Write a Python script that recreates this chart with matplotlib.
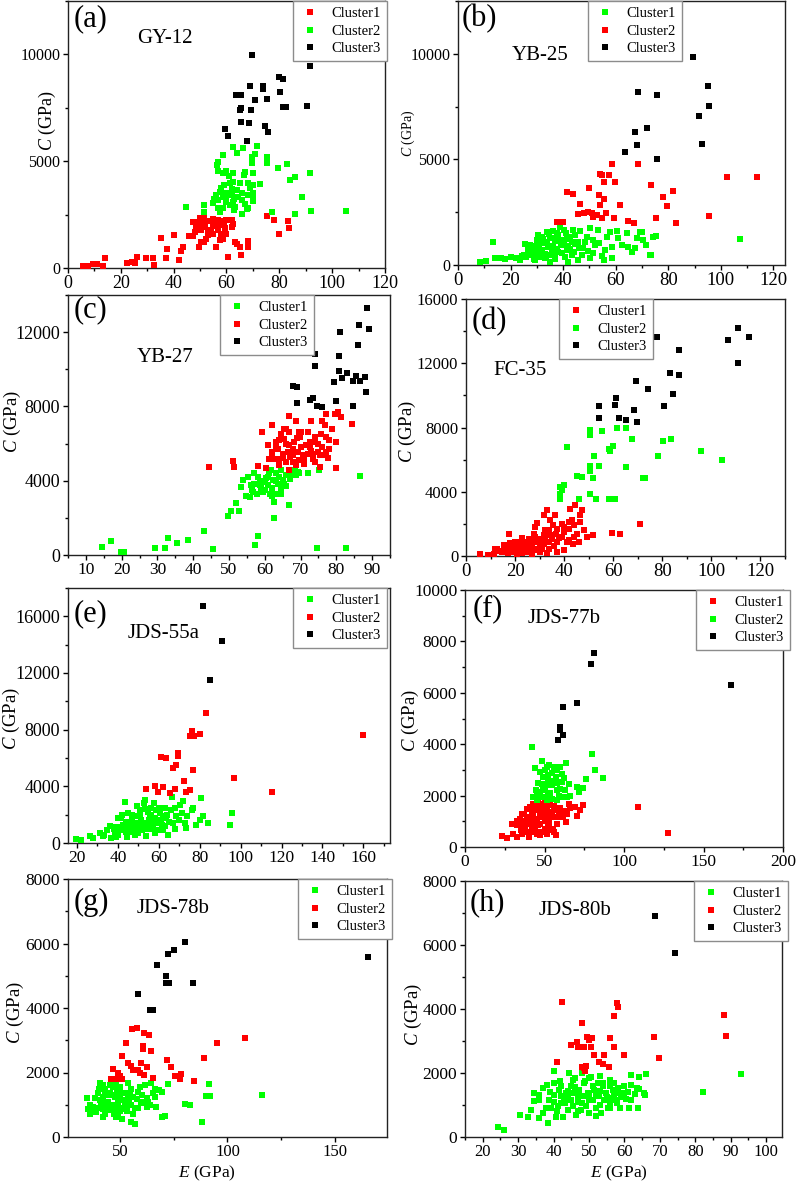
import matplotlib
matplotlib.use("Agg")
import matplotlib.pyplot as plt
from matplotlib.ticker import MultipleLocator, FixedLocator
from matplotlib.lines import Line2D

plt.rcParams['font.family'] = ['Liberation Serif', 'DejaVu Serif']
plt.rcParams['mathtext.fontset'] = 'custom'
plt.rcParams['mathtext.rm'] = 'Liberation Serif'
plt.rcParams['mathtext.it'] = 'Liberation Serif:italic'

RED = '#ff0000'
GREEN = '#00ff00'
BLACK = '#000000'

# ---------------- data (E in GPa, C in GPa) ----------------
# (a) GY-12
a_cluster1 = [(5.8,94),(7.7,94),(9.6,188),(10.9,200),(13.1,94),(14.0,455),(22.2,250),(24.1,297),(25.4,220),(26.2,530),
              (29.5,455),(32.3,455),(32.6,140),(35.2,1390),(37.1,455),(37.4,877),(40.2,1550),(42.1,375),(42.7,813),(43.4,1000),
              (45.9,1500),(47.4,1500),(49.7,1000),(50.3,1235),(47.4,2175),(48.7,2128),(50.6,1940),(51.5,2380),(51.4,1220),(52.4,1380),
              (52.9,1770),(50.5,1770),(48.6,1930),(47.6,2160),(49.9,2320),(51.4,2240),(53.0,2210),(54.9,2120),(56.8,2240),(58.5,2210),
              (60.0,2240),(61.9,2240),(62.5,2050),(61.9,1930),(59.4,1850),(56.8,1800),(54.9,1960),(53.4,1770),(56.5,1990),(60.0,1610),
              (58.7,1380),(57.5,1330),(56.2,990),(60.4,520),(63.2,1220),(64.0,1140),(65.1,990),(65.3,600),(68.0,990),(68.2,1270),
              (75.2,2430),(77.9,2240),(80.0,1610),(83.4,2210),(83.7,1880),
              (52.0,2000),(54.0,1800),(55.0,2300),(57.0,2000),(59.0,2050),(53.0,1550),(55.0,1600),(48.0,1700),(50.0,2100),(58.0,1600)]
a_cluster2 = [(58.5,5300),(62.5,5660),(66.3,5610),(71.4,5690),(70.7,5340),(75.2,5220),(75.2,4900),(69.7,4900),(69.8,5220),(64.0,5380),
              (56.6,4560),(60.0,4560),(58.5,4440),(62.5,4470),(66.7,4360),(70.1,4440),(79.6,4670),(83.0,4860),(85.9,4280),(84.0,4120),
              (91.6,4470),(72.6,3920),(70.1,3890),(68.2,3970),(61.3,3970),(62.5,4040),(64.0,3650),(70.1,3500),(70.1,3260),(70.1,3130),
              (68.2,3420),(58.1,3730),(57.5,3570),(56.0,3420),(60.0,3500),(58.7,3340),(56.8,3180),(55.3,3210),(61.9,3420),(64.4,3340),
              (65.7,3180),(62.5,3100),(60.0,3100),(61.3,2950),(63.2,2870),(58.5,2790),(57.5,2630),(56.8,2790),(55.0,3060),(51.4,2950),
              (51.4,2630),(44.8,2870),(67.8,2740),(65.7,2550),(68.2,2790),(77.4,2630),(86.1,2550),(91.8,2650),(105.2,2680),(88.4,3310),
              (66.9,4510),(56.8,4980),(56.5,4830),
              (59.0,3900),(60.0,3300),(62.0,3700),(63.0,3250),(65.0,4000),(66.0,3500),(67.0,3000),(69.0,3750),(61.0,4300),(63.0,2700)]
a_cluster3 = [(69.7,9950),(91.6,9480),(79.9,8950),(81.2,8850),(68.8,8510),(73.9,8540),(73.9,8380),(63.5,8090),(65.3,8090),(70.7,7880),
              (80.2,8230),(75.4,7930),(81.2,7550),(82.5,7550),(90.6,7600),(65.3,7490),(65.0,7410),(69.1,7410),(65.3,6850),(68.5,6780),
              (74.5,6630),(75.8,6360),(59.4,6520),(60.6,6160),(67.6,5960)]

# (b) YB-25
b_cluster1 = [(8.3,157),(10.8,204),(13.3,1105),(14.0,316),(16.5,316),(17.8,270),(20.3,363),(22.2,316),(24.2,427),(25.4,995),
              (27.3,948),(26.0,363),(28.0,474),(29.2,711),(30.5,1422),(29.9,1185),(31.8,1343),(32.4,1027),(33.7,1580),(34.3,869),
              (35.6,632),(36.8,1185),(37.5,1501),(38.7,1817),(39.4,948),(40.6,395),(41.3,711),(42.6,1343),(43.8,1659),(43.2,1106),
              (36.8,395),(33.0,316),(31.1,395),(29.2,237),(34.9,158),(41.9,158),(45.7,237),(47.0,474),(48.3,1106),(48.9,1343),
              (50.2,1738),(53.3,1659),(52.1,948),(51.4,553),(50.2,316),(54.6,427),(56.5,1343),(57.8,1580),(55.9,711),(58.4,869),
              (61.0,1264),(64.2,1501),(64.8,869),(66.1,632),(68.0,1264),(69.2,1580),(70.5,1185),(73.0,474),(74.3,1343),(58.4,316),
              (69.9,1550),(75.3,1380),(73.3,475),(67.3,790),(107.3,1220),
              (32.0,700),(34.0,1100),(36.0,900),(38.0,600),(40.0,1200),(42.0,900),(44.0,600),(37.0,300),(39.0,1000),(41.0,1500),
              (30.0,500),(27.0,600),(35.0,1300),(38.0,1400),(33.0,500),(44.5,1000),(46.0,800),(40.5,1650),(36.0,1600),(31.0,900),
              (26.5,700),(28.5,900),(30.5,1100),(32.5,1250),(34.5,1450),(36.5,1300),(38.5,1150),(40.5,950),(42.5,750),(44.5,1400),
              (33.5,350),(35.5,450),(37.5,750),(39.5,550),(41.5,1250),(43.5,450),(45.5,1100),(47.5,800),(49.5,650),(51.5,1200),
              (23.5,250),(25.0,450),(29.0,300),(31.5,600),(46.5,1600),(53.5,1050),(55.5,250),(60.5,1600),(62.5,950),(71.5,950)]
b_cluster2 = [(58.4,4790),(68.6,4760),(54.0,4320),(54.6,4240),(57.5,4240),(55.5,3950),(59.9,3920),(73.3,3800),(49.9,3640),(41.5,3450),
              (43.8,3370),(53.6,3320),(55.5,3130),(78.1,3240),(81.9,3510),(46.4,2900),(54.0,2820),(61.6,2820),(79.4,2800),(45.7,2400),
              (47.9,2450),(49.5,2530),(50.8,2450),(51.4,2290),(52.7,2370),(54.6,2210),(56.3,2450),(59.3,2210),(37.8,2020),(40.0,2020),
              (64.8,2060),(67.0,1980),(75.3,2210),(82.9,1980),(95.6,2330),(102.2,4190),(113.7,4160)]
b_cluster3 = [(89.5,9840),(95.0,8460),(68.6,8180),(75.8,8070),(95.6,7550),(91.7,7040),(71.8,6490),(67.3,6280),(68.2,5660),(92.7,5740),
              (63.6,5330),(75.8,5010)]

# (c) YB-27
c_cluster1 = [(14.4,450),(17.0,750),(19.8,180),(20.6,140),(29.3,390),(32.1,360),(33.0,900),(35.6,630),(38.6,810),(43.1,1310),
              (45.5,300),(49.7,2100),(50.6,2380),(51.9,2810),(52.8,2380),(57.3,540),(58.1,1020),(62.5,2010),(62.5,2870),(66.7,2690),
              (74.7,390),(82.6,360),(75.1,4570),(86.7,4260),(72.0,4390),(53.4,3670),(53.9,4030),(55.3,4210),(54.8,3190),(56.2,3760),
              (57.1,4390),(55.8,3130),(57.7,3310),(59.5,3400),(59.5,3980),(58.8,3760),(60.4,4120),(61.3,4390),(60.9,3760),(62.3,4030),
              (63.2,4390),(63.7,3850),(64.6,3580),(63.2,3310),(64.6,3310),(65.5,3850),(66.0,4300),(67.4,4390),(68.8,4300),(69.3,4480),
              (68.4,4570),(69.7,4390),(61.8,4570),(64.6,4570),(58.6,3940),(61.5,3310),(56.8,3400),
              (56.5,3500),(58.0,4200),(59.0,3600),(60.0,3950),(61.0,4200),(62.0,3600),(63.0,4000),(64.0,4200),(65.0,4050),(66.0,3700),
              (67.0,4100),(68.0,4450),(62.0,3200),(60.0,3500),(57.0,3800)]
c_cluster2 = [(44.4,4730),(51.3,4750),(51.1,5070),(58.1,4780),(60.4,4660),(62.1,6980),(59.3,6630),(66.9,7490),(68.8,7200),(69.7,6630),
              (73.0,7200),(79.5,7610),(80.4,7700),(77.2,7610),(81.3,7430),(84.4,7070),(76.1,7200),(76.7,6980),(78.9,6770),(75.6,6540),
              (77.2,6360),(63.2,6090),(60.9,5910),(61.3,5190),(64.6,6540),(65.5,6270),(66.9,5910),(68.3,6090),(69.9,6360),(71.4,5950),
              (72.5,5820),(73.9,6090),(75.0,5550),(73.4,5460),(72.0,5460),(70.7,5370),(69.3,5550),(67.9,5370),(66.5,5550),(65.1,5460),
              (64.1,5190),(62.7,5190),(62.1,5550),(63.7,5730),(66.0,5010),(67.9,5010),(69.7,5100),(73.4,5190),(75.3,5370),(76.7,5370),
              (77.7,5230),(77.2,5550),(75.3,4750),(79.8,4690),(64.1,4840),(68.8,4840),(66.9,4570),(72.5,6090),(73.9,6360),(66.9,6630),
              (65.5,6810),
              (62.0,5400),(63.0,5800),(64.0,6200),(65.0,5200),(66.0,6000),(67.0,5300),(68.0,5700),(69.0,6300),(70.0,5800),(71.0,5200),
              (72.0,6600),(73.0,5600),(74.0,5000),(75.0,6000),(76.0,5800),(78.0,6200),(70.0,6600),(66.0,6800),(64.0,4900),(71.0,4900),
              (78.0,5700),(80.0,6100)]
c_cluster3 = [(88.6,13290),(86.3,12390),(89.1,12180),(81.1,12000),(74.1,10850),(80.7,10690),(86.0,11320),(73.9,10170),(80.7,9890),
              (82.9,9810),(81.6,9550),(79.3,9310),(84.6,9350),(85.6,9640),(86.5,9350),(87.9,9580),(68.0,9100),(69.1,9030),(88.3,8780),
              (73.6,8470),(72.5,8330),(80.0,8270),(69.1,8200),(74.6,8020),(75.9,7950),(84.6,8020)]

# (d) FC-35
d_cluster1 = [(5.8,145),(8.8,83),(11.3,145),(12.6,460),(14.7,250),(16.0,560),(17.4,1390),(18.8,250),(20.1,460),(22.2,350),
              (21.1,660),(23.5,870),(24.2,460),(25.5,1080),(26.5,660),(24.9,250),(26.9,250),(27.6,1390),(28.3,1810),(28.9,2080),
              (30.3,1080),(31.0,460),(31.9,770),(33.0,1290),(31.9,2540),(33.0,2850),(34.4,2220),(35.5,1910),(34.0,1600),(33.7,460),
              (36.4,2580),(36.8,1390),(37.1,870),(39.1,2020),(39.8,1810),(39.1,1180),(41.2,870),(41.9,2120),(42.5,2910),(43.2,2220),
              (44.6,3160),(43.9,1910),(45.3,1390),(43.6,770),(46.6,2540),(46.3,2120),(47.3,2850),(48.0,1600),(49.3,1180),(51.8,1330),
              (59.5,1450),(62.9,1390),(70.8,1970),(40.1,350),(42.1,980),(37.1,250),(35.0,1080),(30.3,250),(20.8,145),(18.1,460),
              (21.5,870),(22.8,250),(15.4,660),(12.0,460),(26.9,1080),(28.3,460),(28.9,870),(31.7,1290),(24.9,870),
              (14.0,300),(17.0,200),(19.0,650),(20.0,900),(22.0,500),(23.0,1100),(24.0,650),(25.0,400),(26.0,800),(27.0,550),
              (28.0,1200),(29.0,350),(30.0,700),(32.0,1000),(32.0,1600),(34.0,850),(35.0,1300),(36.0,600),(37.0,1700),(38.0,1100),
              (40.0,1500),(42.0,1700),(44.0,1200),(46.0,900),(23.0,200),(27.0,150),(33.0,200),(18.0,800)]
d_cluster2 = [(50.4,7830),(50.4,7520),(55.4,7790),(61.6,8000),(65.2,7940),(67.7,7310),(80.2,7190),(83.6,7270),(41.2,6770),(58.2,6690),
              (59.8,6840),(58.8,6530),(52.1,6230),(78.1,6210),(95.8,6550),(104.4,5960),(50.4,5590),(54.4,5590),(65.0,5550),(50.6,5280),
              (45.3,4990),(47.3,4920),(51.8,4880),(72.2,4880),(73.1,4880),(38.5,4300),(39.8,4410),(38.5,3890),(50.4,3840),(53.1,3570),
              (58.2,3530),(60.9,3530),(45.9,3570),(38.5,3570),(39.1,4090)]
d_cluster3 = [(110.9,14210),(106.7,13440),(115.2,13650),(77.9,13610),(86.7,12820),(110.9,12030),(83.3,11410),(86.7,11260),
              (69.4,10890),(74.1,10390),(84.4,10080),(61.3,9810),(54.2,9350),(60.7,9430),(80.6,9350),(68.4,9080),(54.2,8600),
              (62.2,8620),(65.0,8460),(69.7,8350)]

# (e) JDS-55a
e_cluster1 = [(19.3,280),(22.1,190),(26.2,470),(27.8,350),(31.1,700),(32.7,470),(34.7,940),(36.8,350),(38.4,700),(40.1,1760),
              (41.7,1760),(43.6,2860),(41.7,940),(44.1,1170),(46.6,1410),(48.2,590),(49.0,1880),(50.7,2350),(52.6,2820),(53.1,3050),
              (52.3,1410),(53.9,470),(55.6,1880),(56.4,2460),(57.5,2820),(58.8,1410),(60.4,2110),(62.1,940),(62.9,2460),(63.4,1760),
              (64.5,590),(67.0,1410),(67.8,2460),(66.6,3280),(71.1,2110),(71.6,2930),(72.7,1410),(73.5,1060),(76.8,2460),(78.4,1290),
              (80.0,1640),(80.8,3170),(81.7,1880),(84.1,1410),(94.7,1290),(96.0,2110),(70.2,2700),(68.6,1880),(58.0,700),(49.8,940),
              (45.8,940),(53.9,1170),(48.2,1410),(58.8,2350),(55.6,1170),(51.5,1640),(47.0,2000),(44.0,1500),(50.0,1200),(54.5,2200),
              (57.0,1000),(60.0,1600),(46.0,800),(42.5,1300),(56.0,1500),(61.5,1300),(52.0,900),(39.0,1100),
              (38.0,1000),(40.0,600),(42.0,1100),(44.0,800),(45.0,2100),(46.0,1200),(47.0,1700),(48.0,1000),(49.5,2600),(50.0,700),
              (51.0,1900),(52.0,1300),(53.0,2400),(54.0,1000),(55.0,1600),(56.0,2000),(57.0,1200),(58.0,1800),(59.0,900),(60.0,2500),
              (61.0,1500),(62.0,1900),(63.0,1200),(64.0,2000),(65.0,1500),(66.0,2300),(68.0,1000),(70.0,1600),(74.0,1900),(76.0,2300),
              (42.0,2000),(44.5,400),(36.0,1200),(33.0,600),(39.0,400)]
e_cluster2 = [(83.3,9150),(76.3,7930),(75.1,7550),(77.3,7550),(80.0,7690),(159.6,7620),(61.3,6100),(63.4,5980),(69.4,6380),(69.4,6150),
              (68.3,5510),(67.0,5280),(76.8,5160),(72.4,4410),(96.8,4620),(53.9,3820),(58.0,4030),(59.6,3570),(61.8,3940),(67.8,3820),
              (65.3,3520),(73.2,3570),(75.1,3750),(115.4,3570)]
e_cluster3 = [(81.7,16730),(91.1,14260),(85.2,11540)]

# (f) JDS-77b
f_cluster1 = [(23.1,420),(26.2,360),(29.4,910),(30.4,520),(32.5,390),(33.0,840),(34.6,1100),(35.7,520),(37.8,780),(38.8,1170),
              (38.8,1490),(40.5,390),(40.9,910),(42.0,1360),(43.0,1690),(44.1,650),(45.1,1100),(46.2,1430),(47.2,450),(47.2,910),
              (48.9,1690),(49.3,1170),(50.4,710),(51.4,1430),(52.5,910),(51.4,520),(53.5,1620),(54.6,1170),(55.6,650),(56.7,1430),
              (57.7,910),(59.4,1360),(61.9,1170),(63.6,970),(65.1,1690),(66.1,1530),(69.3,1560),(70.3,1200),(72.4,1430),(73.9,1620),
              (56.0,580),(109.1,1560),(127.6,560),(35.7,1300),(47.2,1690),(44.0,1000),(48.0,1300),(41.5,600),(53.0,800),(46.0,1550),
              (36.0,900),(37.0,1300),(39.0,600),(40.0,1000),(41.0,1550),(42.0,800),(43.0,1200),(44.0,1450),(45.0,500),(46.0,850),
              (47.0,1250),(48.0,600),(49.0,1500),(50.0,1000),(51.0,1250),(52.0,1650),(53.0,1050),(54.0,700),(55.0,1350),(56.0,1600),
              (58.0,1150),(60.0,1500),(62.0,1400),(64.0,1300),(46.0,1700),(50.0,1700),(38.0,1000),(35.0,650),(33.0,1000),(57.0,450)]
f_cluster2 = [(42.0,3900),(48.3,3350),(79.8,3600),(44.1,3090),(51.4,3120),(53.1,3180),(57.7,2990),(59.8,3120),(63.4,3250),(60.9,2830),
              (81.9,3010),(86.7,2700),(76.2,2660),(49.3,2730),(52.5,2620),(56.0,2570),(61.3,2530),(65.1,2470),(74.5,2310),(70.3,2340),
              (71.4,2140),(44.5,2230),(47.2,2140),(50.4,2210),(53.5,2100),(57.7,2210),(59.8,2270),(63.0,2210),(43.0,1950),(45.2,1820),
              (48.9,1950),(51.4,1820),(54.6,1880),(57.7,1820),(60.9,1950),(51.4,2470),(48.3,2470),(54.6,2860),(57.1,2730),
              (46.0,2500),(47.0,2900),(49.0,2350),(50.0,3000),(52.0,2800),(53.0,2400),(55.0,2400),(56.0,3100),(58.0,2500),(59.0,2000),
              (62.0,2700),(64.0,1950),(66.0,2000),(45.0,2000),(52.0,2000)]
f_cluster3 = [(81.2,7530),(79.3,7120),(167.5,6300),(70.3,5590),(61.9,5460),(59.8,4680),(59.8,4550),(61.9,4350),(58.8,4180)]

# (g) JDS-78b
g_cluster1 = [(34.4,1220),(34.9,880),(35.6,720),(37.2,930),(38.8,780),(40.3,1680),(40.3,1140),(41.9,880),(42.7,1350),(43.4,1040),
              (45.0,830),(46.6,1550),(47.3,1240),(47.8,620),(48.1,1710),(48.9,990),(49.7,1350),(50.5,570),(51.2,1140),(52.8,880),
              (53.6,1680),(54.4,1350),(55.1,990),(55.1,470),(56.7,410),(57.5,1190),(59.0,1550),(59.8,1090),(61.4,1600),(62.2,930),
              (64.5,1680),(65.3,1350),(66.1,1500),(66.8,930),(69.2,1400),(69.5,620),(70.7,640),(72.3,1640),(80.1,1010),(82.4,1000),
              (87.9,470),(89.9,1260),(91.3,1640),(91.8,1260),(116.0,1310),(45.0,1350),(41.9,620),(39.5,1350),(44.0,1100),(47.0,900),
              (50.0,1200),(52.0,1000),(46.0,1300),(48.5,1500),(43.0,700),(53.5,1200),(58.0,900),(62.5,1200),
              (36.0,1000),(38.0,1200),(39.0,900),(40.0,1500),(41.0,1000),(42.0,1250),(43.0,1500),(44.0,900),(45.0,1600),(46.0,1000),
              (47.0,700),(48.0,1300),(49.0,1150),(50.0,1550),(51.0,900),(52.0,1350),(53.0,800),(54.0,1100),(55.0,1500),(56.0,1250),
              (57.0,900),(58.0,1400),(60.0,1300),(61.0,1050),(63.0,1100),(64.0,1000),(36.0,800),(42.0,1600),(50.0,800),(47.0,1650),
              (44.0,1300),(49.0,650),(56.0,700),(66.0,1250),(68.0,1450)]
g_cluster2 = [(57.5,3380),(55.3,3340),(60.9,3240),(63.3,3160),(52.8,2920),(60.6,2830),(60.6,2720),(64.2,2670),(50.8,2520),(53.6,2280),
              (55.1,2200),(59.8,2310),(62.2,2170),(71.8,2380),(73.6,2170),(46.6,2120),(48.9,1970),(50.0,1880),(50.9,1810),(45.8,1810),
              (48.1,1810),(55.9,2070),(58.3,2070),(59.2,1970),(61.1,1910),(65.3,1840),(75.4,1890),(77.8,1810),(78.5,1950),(84.5,1740),
              (89.2,2450),(94.9,2900),(108.2,3070)]
g_cluster3 = [(80.1,6050),(75.0,5800),(72.3,5660),(67.3,5330),(71.1,5000),(71.1,4790),(72.6,4790),(83.7,4760),(58.3,4430),(63.7,3930),
              (65.0,3950),(165.4,5570)]

# (h) JDS-80b
h_cluster1 = [(24.4,300),(26.1,210),(30.6,680),(32.7,620),(33.5,830),(34.6,1110),(34.6,1370),(36.0,1160),(36.0,590),(37.0,750),
              (37.0,1530),(38.1,1630),(38.4,440),(38.8,1160),(39.3,900),(40.0,1320),(40.2,2050),(40.7,640),(41.2,960),(41.5,1480),
              (41.7,1740),(42.1,1270),(42.6,640),(43.1,1060),(43.5,1370),(44.0,850),(44.3,1990),(44.5,1160),(44.9,1580),(45.4,960),
              (45.6,1790),(45.9,1370),(46.3,700),(46.8,1160),(47.3,1480),(47.8,850),(48.0,1990),(48.2,1270),(48.7,1680),(49.2,960),
              (49.6,1370),(50.1,750),(50.6,1890),(51.1,1160),(51.5,1480),(52.0,900),(52.5,1680),(52.9,1270),(53.4,750),(53.9,1580),
              (54.3,1160),(54.8,1370),(55.3,900),(55.8,1790),(56.2,1220),(56.7,1480),(57.2,1680),(57.6,1160),(58.1,1370),(58.1,1530),
              (58.9,900),(59.8,1370),(60.5,1180),(60.0,1600),(61.9,1940),(62.0,1610),(63.6,1530),(63.9,900),(64.2,1890),(66.1,1970),
              (65.6,1370),(65.8,1320),(61.4,900),(82.1,1400),(92.9,1970),(47.0,1100),(50.0,1300),(53.0,1450),(44.0,1250),(56.0,1050),
              (36.0,1300),(38.0,900),(39.0,1400),(40.0,1100),(41.0,800),(42.0,1600),(43.0,1250),(44.0,1450),(45.0,1150),(46.0,1550),
              (47.0,1300),(48.0,1050),(49.0,1750),(50.0,1150),(51.0,1600),(52.0,1350),(53.0,1000),(54.0,1700),(55.0,1250),(56.0,1600),
              (57.0,1350),(58.0,1050),(59.0,1250),(61.0,1400),(62.0,1150),(63.0,1350),(64.0,1500),(46.0,1850),(50.0,1850),(53.0,1900),
              (42.0,1050),(47.0,800),(52.0,650),(56.0,900),(40.0,1700)]
h_cluster2 = [(42.3,4210),(57.8,4200),(58.3,4070),(57.0,3780),(88.0,3810),(48.0,3550),(49.5,3140),(49.9,3030),(50.9,3090),(55.8,3090),
              (68.5,3140),(88.7,3160),(44.9,2860),(46.5,2980),(46.8,2800),(48.7,2800),(50.6,2800),(57.2,2800),(51.3,2570),(54.3,2550),
              (60.0,2570),(40.9,2340),(52.9,2340),(54.1,2290),(55.6,2180),(69.9,2460),(48.0,2200),(48.7,2150),(49.2,2220),(49.0,2050)]
h_cluster3 = [(68.7,6910),(74.3,5760)]

# ---------------- layout ----------------
W, H = 796, 1182
fig = plt.figure(figsize=(W / 100, H / 100), dpi=100)


def fx(x):
    return x / W


def fy(y):
    return 1 - y / H


panels = [
    dict(box=(68, 385, 1, 268), xlim=(0, 120), xmaj=20, xmin=10, ylim=(0, 12500), ymaj=[0, 5000, 10000], ymin=2500,
         series=[('Cluster1', RED, a_cluster1), ('Cluster2', GREEN, a_cluster2), ('Cluster3', BLACK, a_cluster3)],
         leg=(293, 1), tag='(a)', tagpos=(74, 19), name='GY-12', namepos=(137, 42.7), ylab=(47, 121, 13),
         yts=11.5, xts=13),
    dict(box=(458, 785, 1, 265), xlim=(0, 124.4), xmaj=20, xmin=10, ylim=(0, 12500), ymaj=[0, 5000, 10000], ymin=2500,
         series=[('Cluster1', GREEN, b_cluster1), ('Cluster2', RED, b_cluster2), ('Cluster3', BLACK, b_cluster3)],
         leg=(588, 1), tag='(b)', tagpos=(462, 19), name='YB-25', namepos=(512, 60), ylab=(408, 133, 10),
         yts=11.5, xts=13.5),
    dict(box=(68, 390, 295, 555), xlim=(5, 95), xmaj=10, xmin=5, ylim=(0, 14000), ymaj=[0, 4000, 8000, 12000], ymin=2000,
         series=[('Cluster1', GREEN, c_cluster1), ('Cluster2', RED, c_cluster2), ('Cluster3', BLACK, c_cluster3)],
         leg=(220, 295), tag='(c)', tagpos=(74, 309.5), name='YB-27', namepos=(137, 361.7), ylab=(12, 421, 13.5),
         yts=13, xts=12.5),
    dict(box=(466, 785, 299, 556), xlim=(0, 130), xmaj=20, xmin=10, ylim=(0, 16000), ymaj=[0, 4000, 8000, 12000, 16000], ymin=2000,
         series=[('Cluster1', RED, d_cluster1), ('Cluster2', GREEN, d_cluster2), ('Cluster3', BLACK, d_cluster3)],
         leg=(559, 299), tag='(d)', tagpos=(472, 322), name='FC-35', namepos=(493, 375), ylab=(407, 431, 13.5),
         yts=12, xts=13.5),
    dict(box=(68, 390, 588, 843), xlim=(15.6, 173), xmaj=20, xmin=10, ylim=(0, 18000), ymaj=[0, 4000, 8000, 12000, 16000], ymin=2000,
         series=[('Cluster1', GREEN, e_cluster1), ('Cluster2', RED, e_cluster2), ('Cluster3', BLACK, e_cluster3)],
         leg=(293, 588), tag='(e)', tagpos=(74, 614), name='JDS-55a', namepos=(128, 638.3), ylab=(11, 718, 13.5),
         yts=13, xts=12.5),
    dict(box=(465, 783, 590, 847), xlim=(0, 200), xmaj=50, xmin=25, ylim=(0, 10000), ymaj=[0, 2000, 4000, 6000, 8000, 10000], ymin=1000,
         series=[('Cluster1', RED, f_cluster1), ('Cluster2', GREEN, f_cluster2), ('Cluster3', BLACK, f_cluster3)],
         leg=(696, 590), tag='(f)', tagpos=(473, 609), name='JDS-77b', namepos=(528, 623.3), ylab=(410, 720, 13.5),
         yts=12.5, xts=12.5),
    dict(box=(68, 387, 879, 1137), xlim=(25.5, 174.5), xmaj=50, xmin=25, ylim=(0, 8000), ymaj=[0, 2000, 4000, 6000, 8000], ymin=1000,
         series=[('Cluster1', GREEN, g_cluster1), ('Cluster2', RED, g_cluster2), ('Cluster3', BLACK, g_cluster3)],
         leg=(298, 879), tag='(g)', tagpos=(74, 902.5), name='JDS-78b', namepos=(137, 913.3), ylab=(15, 1012, 13.5),
         yts=12.5, xts=12, xlab=(207, 1177)),
    dict(box=(465, 782, 881, 1137), xlim=(15, 104.5), xmaj=10, xmin=5, ylim=(0, 8000), ymaj=[0, 2000, 4000, 6000, 8000], ymin=1000,
         series=[('Cluster1', GREEN, h_cluster1), ('Cluster2', RED, h_cluster2), ('Cluster3', BLACK, h_cluster3)],
         leg=(694, 881), tag='(h)', tagpos=(470, 902.5), name='JDS-80b', namepos=(539, 915), ylab=(413, 1014, 13.5),
         yts=12.5, xts=12, xlab=(619, 1177)),
]

for p in panels:
    L, R, T, B = p['box']
    ax = fig.add_axes([fx(L), fy(B), (R - L) / W, (B - T) / H])
    handles = []
    for label, color, pts in p['series']:
        xs = [q[0] for q in pts]
        ys = [q[1] for q in pts]
        ax.plot(xs, ys, ls='none', marker='s', ms=5.0, mew=0, color=color, zorder=3)
        handles.append(Line2D([], [], ls='none', marker='s', ms=4.2, mew=0, color=color, label=label))
    ax.set_xlim(*p['xlim'])
    ax.set_ylim(*p['ylim'])
    ax.xaxis.set_major_locator(MultipleLocator(p['xmaj']))
    ax.xaxis.set_minor_locator(MultipleLocator(p['xmin']))
    ax.yaxis.set_major_locator(FixedLocator(p['ymaj']))
    ax.yaxis.set_minor_locator(MultipleLocator(p['ymin']))
    ax.tick_params(which='major', direction='out', length=3.6, width=1, top=False, right=False)
    ax.tick_params(which='minor', direction='out', length=2.2, width=1, top=False, right=False)
    ax.tick_params(axis='y', which='major', labelsize=p['yts'], pad=2)
    ax.tick_params(axis='x', which='major', labelsize=p['xts'], pad=1.5)
    for s in ax.spines.values():
        s.set_linewidth(1.0)
        s.set_color('#222222')
    leg = ax.legend(handles=handles, loc='upper left', bbox_to_anchor=(fx(p['leg'][0]), fy(p['leg'][1])),
                    bbox_transform=fig.transFigure, borderaxespad=0, frameon=True, fancybox=False,
                    edgecolor='#8c8c8c', framealpha=1, fontsize=10.5, borderpad=0.4, handlelength=1.5,
                    handletextpad=0.75, labelspacing=0.3)
    leg.get_frame().set_linewidth(1.0)
    leg.set_zorder(5)
    fig.text(fx(p['tagpos'][0]), fy(p['tagpos'][1]), p['tag'], fontsize=22, ha='left', va='center')
    fig.text(fx(p['namepos'][0]), fy(p['namepos'][1]), p['name'], fontsize=15, ha='left', va='baseline')
    yx, yy, ysz = p['ylab']
    fig.text(fx(yx), fy(yy), '$C$ (GPa)', fontsize=ysz, rotation=90, ha='center', va='center')
    if 'xlab' in p:
        fig.text(fx(p['xlab'][0]), fy(p['xlab'][1]), '$E$ (GPa)', fontsize=12.5, ha='center', va='baseline')

fig.savefig('out.png', dpi=100)
